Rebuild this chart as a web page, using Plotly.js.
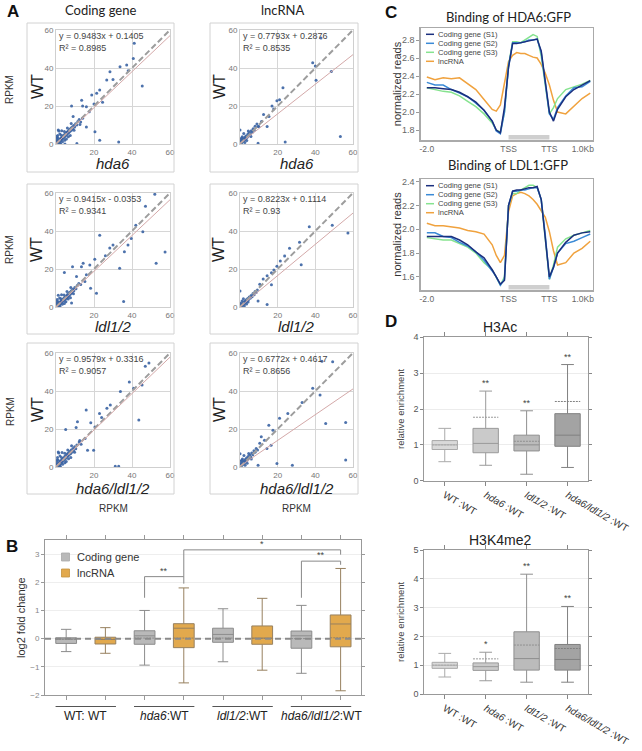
<!DOCTYPE html>
<html><head><meta charset="utf-8">
<script src="https://cdn.plot.ly/plotly-3.0.1.min.js"></script>
<style>html,body{margin:0;padding:0;background:#fff}#chart{width:642px;height:751px}</style>
</head><body><div id="chart"></div>
<script>
// ================= Panel A : scatter (mutant RPKM vs WT RPKM) =================
const scatterMutants = ['hda6','ldl1/2','hda6/ldl1/2'];
const scatterColumns = ['Coding gene','lncRNA'];
const codingHda6 = [[0.3,0.5],[0.6,0.2],[0.8,1.1],[1.0,0.6],[1.2,1.5],[1.5,0.9],[1.7,2.0],[2.0,1.4],[2.2,2.6],[2.5,1.9],[2.7,3.1],[3.0,2.4],[3.2,3.6],[3.5,2.9],[3.7,4.2],[4.0,3.3],[4.2,4.8],[4.5,3.8],[4.8,5.2],[5.0,4.4],[5.3,5.9],[5.6,4.9],[5.9,6.3],[6.2,5.5],[6.5,7.0],[6.8,6.1],[7.1,7.6],[7.4,6.7],[7.8,8.3],[8.1,7.3],[8.5,9.0],[8.9,8.0],[9.3,9.8],[9.8,9.0],[10.3,10.6],[10.9,10.0],[11.5,11.8],[0.4,2.2],[1.1,3.0],[2.4,0.3],[3.4,1.2],[0.9,4.5],[2.0,5.2],[5.5,2.6],[6.5,3.8],[1.5,6.8],[3.0,7.0],[7.5,4.5],[0.2,1.3],[1.8,0.2],[0.5,3.2],[2.8,4.6],[4.4,6.6],[6.0,8.4],[8.0,10.8],[4.6,2.0],[9.5,7.2],[12.2,12.9],[13.0,11.6],
  [12.6,10.2],[14.0,13.5],[16.0,19.6],[14.0,20.0],[8.2,20.0],[13.5,23.0],[18.8,25.8],[21.4,26.7],[23.0,28.4],[20.0,21.0],[17.5,17.0],[24.5,22.0],[26.7,33.7],[28.4,38.0],[30.0,34.0],[33.7,40.7],[37.2,41.6],[38.0,38.6],[40.7,45.0],[41.2,53.0],[45.4,30.5],[16.0,9.0],[20.5,6.5],[23.0,2.0],[33.0,1.0],[11.0,0.3],[4.7,0.0],[1.2,7.4],[0.4,3.9],[9.0,14.5]];
const lncHda6 = [[0.3,0.4],[0.5,1.2],[0.8,0.6],[1.0,1.8],[1.3,1.1],[1.6,2.5],[1.9,1.7],[2.2,3.0],[2.5,2.2],[2.8,3.8],[3.1,2.9],[3.4,4.4],[3.8,3.5],[4.2,5.2],[4.6,4.3],[5.0,6.0],[5.5,5.1],[6.0,7.0],[6.5,6.2],[7.0,8.0],[7.5,7.2],[8.0,9.3],[0.4,2.6],[1.2,3.8],[2.6,0.8],[0.2,1.5],[3.6,1.8],[2.0,5.5],[9.0,10.5],[10.0,9.2],[0.9,3.1],[4.4,6.8],[5.8,4.0],
  [14.4,9.2],[17.9,18.4],[19.6,22.8],[21.0,23.3],[22.8,29.6],[15.4,14.5],[11.4,11.9],[9.6,9.2],[38.6,42.8],[40.0,41.0],[40.4,33.6],[43.0,55.8],[24.0,1.0],[9.6,0.4],[0.0,7.4],[48.5,38.2],[53.3,3.9],[12.5,15.5],[17.0,20.0]];
const codingLdl = [[0.2,0.4],[0.5,0.9],[0.7,0.3],[0.9,1.4],[1.2,0.8],[1.4,1.9],[1.7,1.2],[1.9,2.4],[2.2,1.7],[2.4,2.9],[2.7,2.2],[2.9,3.4],[3.2,2.7],[3.5,4.0],[3.8,3.1],[4.1,4.6],[4.4,3.6],[4.7,5.1],[5.0,4.2],[5.3,5.7],[5.6,4.8],[5.9,6.4],[6.3,5.4],[6.6,7.0],[7.0,6.1],[7.3,7.7],[7.7,6.9],[8.1,8.5],[8.5,7.6],[8.9,9.3],[9.4,8.5],[9.9,10.2],[10.5,9.6],[11.2,11.3],[0.3,1.9],[1.0,2.8],[2.1,0.4],[3.3,1.4],[0.7,4.0],[1.9,4.8],[5.2,2.8],[6.4,4.2],[1.2,6.2],[2.9,6.4],[7.6,4.9],[0.1,1.0],[1.6,0.1],[0.4,3.0],[2.6,4.3],[4.2,6.3],[5.8,8.1],[7.8,10.2],[4.4,1.9],[9.2,7.0],[12.0,12.4],[13.0,11.9],
  [47.1,53.0],[52.0,59.3],[52.7,23.0],[57.4,29.0],[45.7,39.6],[39.6,36.0],[37.9,32.6],[36.0,29.1],[30.0,32.6],[28.3,31.0],[23.0,37.8],[20.4,25.1],[17.8,22.1],[13.4,21.2],[8.7,21.2],[10.8,16.0],[15.2,13.4],[18.2,9.9],[21.3,7.3],[35.6,2.9],[8.2,2.1],[4.4,18.1],[14.3,23.0],[33.5,20.4],[26.0,27.0],[42.0,43.0],[16.0,17.0]];
const lncLdl = [[0.2,0.3],[0.4,0.9],[0.7,0.5],[0.9,1.5],[1.2,0.9],[1.5,2.1],[1.8,1.4],[2.1,2.6],[2.4,1.9],[2.7,3.2],[3.0,2.5],[3.3,3.8],[3.7,3.1],[4.1,4.5],[4.5,3.8],[4.9,5.3],[5.4,4.6],[5.9,6.1],[6.4,5.4],[6.9,7.1],[7.5,6.5],[8.0,8.2],[8.6,7.6],[9.2,9.0],[0.3,2.0],[1.1,3.1],[2.3,0.6],[3.5,1.6],[1.8,4.4],[4.3,2.6],[0.1,1.2],[0.6,0.1],
  [36.8,42.2],[31.6,34.1],[26.3,30.9],[23.7,26.8],[21.4,24.2],[19.6,21.5],[16.7,18.0],[14.4,16.5],[12.3,14.7],[32.5,22.3],[16.7,11.7],[14.4,1.3],[9.6,3.1],[0.0,8.4],[49.0,43.0],[57.3,38.9],[10.5,12.0],[18.0,19.5]];
const codingDouble = [[0.3,0.6],[0.5,0.2],[0.8,1.3],[1.0,0.5],[1.3,1.8],[1.5,1.0],[1.8,2.4],[2.0,1.5],[2.3,3.0],[2.6,2.0],[2.8,3.6],[3.1,2.6],[3.4,4.2],[3.7,3.1],[4.0,4.8],[4.3,3.7],[4.6,5.5],[4.9,4.3],[5.2,6.1],[5.5,5.0],[5.8,6.8],[6.1,5.6],[6.5,7.4],[6.8,6.3],[7.2,8.1],[7.6,7.0],[8.0,8.9],[8.4,7.8],[8.9,9.8],[9.3,8.6],[9.8,10.6],[10.4,9.6],[11.0,11.6],[0.4,2.6],[1.2,3.5],[2.3,0.4],[3.5,1.4],[0.8,5.0],[2.1,5.8],[5.4,2.9],[6.6,4.4],[1.4,7.4],[3.2,7.6],[7.8,5.0],[0.1,1.5],[1.9,0.3],[0.6,3.8],[2.9,5.0],[4.6,7.2],[6.2,9.0],[8.2,11.2],[4.7,2.3],[9.8,7.8],[12.2,13.2],[13.2,12.0],[0.2,0.1],[1.1,0.2],
  [47.0,53.0],[48.9,54.7],[45.3,43.2],[40.9,41.5],[38.6,44.7],[43.6,24.7],[33.9,39.7],[28.6,32.6],[26.8,30.9],[22.9,28.2],[18.3,23.3],[15.9,30.0],[11.3,23.8],[5.1,19.8],[10.6,20.8],[15.3,15.0],[16.6,8.8],[19.8,8.8],[33.0,0.4],[31.2,0.4],[7.4,7.1],[1.2,7.9],[20.5,21.0],[24.0,26.0],[12.5,14.0]];
const lncDouble = [[0.3,0.5],[0.5,1.3],[0.8,0.7],[1.0,2.0],[1.3,1.2],[1.6,2.7],[1.9,1.8],[2.2,3.3],[2.5,2.4],[2.8,4.0],[3.1,3.0],[3.5,4.7],[3.9,3.7],[4.3,5.5],[4.7,4.5],[5.2,6.3],[5.7,5.3],[6.2,7.4],[6.8,6.5],[7.4,8.6],[8.0,7.7],[8.6,9.8],[0.4,3.0],[1.3,4.2],[2.7,0.9],[0.2,1.7],[3.8,2.0],[2.1,6.0],[9.3,9.0],[0.9,3.6],[4.6,7.1],[6.0,4.2],[0.1,0.2],
  [43.5,55.6],[38.6,41.5],[42.5,37.9],[25.4,28.2],[21.0,25.6],[17.5,19.4],[15.3,22.0],[13.0,14.1],[11.3,15.9],[16.5,11.5],[14.3,9.7],[27.8,0.9],[19.6,1.8],[9.6,0.9],[0.0,7.0],[49.2,55.4],[45.5,22.9],[56.1,23.4],[56.1,3.7],[33.0,34.0],[10.5,12.5]];
// order: coding hda6, lnc hda6, coding ldl, lnc ldl, coding double, lnc double
const fitSlopes = [0.9483, 0.7793, 0.9415, 0.8223, 0.9579, 0.6772];
const fitIntercepts = [0.1405, 0.2876, -0.0353, 0.1114, 0.3316, 0.4617];
const fitR2 = ['0.8985', '0.8535', '0.9341', '0.93', '0.9057', '0.8656'];
const scatterTicksX = [20, 40, 60];
const scatterTicksY = [0, 20, 40, 60];

// ================= Panel B : log2 fold change boxes =================
const bSeries = ['Coding gene', 'lncRNA'];
const bGroupLabels = ['WT: WT', '<i>hda6</i>:WT', '<i>ldl1/2</i>:WT', '<i>hda6/ldl1/2</i>:WT'];
const bCodingLow  = [-0.46, -0.94, -0.82, -1.23];
const bCodingQ1   = [-0.17, -0.20, -0.13, -0.34];
const bCodingMed  = [-0.01,  0.10,  0.15,  0.10];
const bCodingQ3   = [ 0.03,  0.28,  0.37,  0.27];
const bCodingHigh = [ 0.33,  1.00,  1.06,  1.18];
const bCodingMean = [-0.03,  0.02,  0.02,  0.00];
const bLncLow  = [-0.52, -1.57, -1.12, -1.85];
const bLncQ1   = [-0.19, -0.32, -0.20, -0.29];
const bLncMed  = [-0.03,  0.37,  0.02,  0.52];
const bLncQ3   = [ 0.05,  0.53,  0.45,  0.84];
const bLncHigh = [ 0.39,  1.80,  1.43,  2.49];
const bLncMean = [-0.02,  0.02,  0.01,  0.03];
const bTicksY = [-2, -1, 0, 1, 2, 3];

// ================= Panel C : metagene profiles =================
const metaX = [-2.0,-1.8,-1.6,-1.4,-1.2,-1.0,-0.8,-0.6,-0.4,-0.3,-0.2,-0.1,0,0.1,0.2,0.3,0.4,0.5,0.6,0.7,0.8,0.9,1.0,1.1,1.2,1.4,1.6,1.8,2.0];
const metaSeries = ['Coding gene (S1)', 'Coding gene (S2)', 'Coding gene (S3)', 'lncRNA'];
const metaTickVals = [-2, 0, 1, 1.82];
const metaTickText = ['-2.0', 'TSS', 'TTS', '1.0Kb'];
const hda6S1  = [2.27,2.27,2.26,2.25,2.22,2.17,2.11,2.02,1.90,1.80,1.77,2.05,2.50,2.76,2.76,2.77,2.78,2.79,2.80,2.81,2.68,2.35,2.00,1.90,2.03,2.17,2.25,2.30,2.35];
const hda6S2  = [2.33,2.30,2.30,2.25,2.21,2.17,2.10,2.02,1.90,1.79,1.76,2.00,2.50,2.77,2.77,2.77,2.78,2.80,2.80,2.81,2.66,2.33,1.98,1.92,2.05,2.18,2.27,2.28,2.34];
const hda6S3  = [2.27,2.25,2.23,2.22,2.18,2.12,2.06,1.98,1.88,1.80,1.78,2.00,2.52,2.78,2.78,2.77,2.80,2.83,2.86,2.84,2.62,2.30,1.98,2.05,2.15,2.25,2.28,2.31,2.35];
const hda6Lnc = [2.39,2.36,2.38,2.37,2.38,2.32,2.25,2.14,2.03,2.01,2.08,2.32,2.56,2.63,2.66,2.65,2.65,2.63,2.61,2.60,2.53,2.43,2.30,2.13,2.00,1.98,2.06,2.15,2.21];
const ldlS1  = [1.94,1.94,1.94,1.94,1.91,1.87,1.81,1.76,1.66,1.60,1.54,1.57,2.20,2.32,2.33,2.33,2.34,2.35,2.35,2.36,2.25,1.94,1.60,1.68,1.80,1.89,1.95,1.97,1.98];
const ldlS2  = [1.97,1.97,1.94,1.93,1.89,1.86,1.81,1.74,1.65,1.60,1.53,1.58,2.20,2.32,2.32,2.33,2.33,2.34,2.35,2.35,2.25,1.95,1.58,1.68,1.80,1.88,1.90,1.93,1.96];
const ldlS3  = [1.93,1.92,1.91,1.91,1.88,1.85,1.80,1.72,1.66,1.60,1.53,1.60,2.20,2.30,2.30,2.33,2.35,2.37,2.37,2.35,2.25,1.90,1.58,1.70,1.85,1.92,1.95,1.97,1.99];
const ldlLnc = [2.05,2.03,2.03,2.02,2.01,1.99,1.98,1.96,1.87,1.78,1.72,1.78,2.15,2.28,2.30,2.31,2.30,2.28,2.25,2.21,2.16,2.10,1.98,1.82,1.70,1.72,1.80,1.84,1.90];

// ================= Panel D : relative enrichment boxes =================
const dCats = ['WT :WT', '<i>hda6</i> :WT', '<i>ldl1/2</i> :WT', '<i>hda6/ldl1/2</i> :WT'];
const h3acLow  = [0.53, 0.43, 0.18, 0.37];
const h3acQ1   = [0.87, 0.78, 0.83, 0.96];
const h3acMed  = [1.00, 1.04, 1.00, 1.27];
const h3acQ3   = [1.12, 1.46, 1.27, 1.87];
const h3acHigh = [1.46, 2.50, 1.95, 3.24];
const h3acMean = [1.00, 1.77, 1.10, 2.21];
const h3acSig  = ['', '**', '**', '**'];
const k4Low  = [0.59, 0.46, 0.41, 0.41];
const k4Q1   = [0.89, 0.82, 0.83, 0.83];
const k4Med  = [1.00, 0.95, 1.23, 1.20];
const k4Q3   = [1.10, 1.08, 2.16, 1.72];
const k4High = [1.41, 1.45, 4.16, 3.04];
const k4Mean = [1.00, 1.22, 1.70, 1.58];
const k4Sig  = ['', '*', '**', '**'];

// ================= build =================
const W = 642, H = 751;
const X = p => p / W, Y = p => 1 - p / H;
const data = [], shapes = [], annotations = [];
const FONT = 'Liberation Sans, Arial, sans-serif';
const TFONT = 'Lato, Liberation Sans, sans-serif';
const layout = {width: W, height: H, autosize: false, margin: {l:0, r:0, t:0, b:0},
  paper_bgcolor: '#fff', plot_bgcolor: 'rgba(0,0,0,0)', showlegend: false, boxmode: 'overlay',
  font: {family: FONT, size: 9, color: '#555'}};
const ax = n => n === 1 ? '' : String(n);
function txt(o) { annotations.push(Object.assign({showarrow: false, xref: 'paper', yref: 'paper', xanchor: 'center', yanchor: 'middle'}, o)); }

// panel letters
txt({text: '<b>A</b>', x: X(13), y: Y(12), font: {size: 17, color: '#111', family: FONT}});
txt({text: '<b>B</b>', x: X(12), y: Y(546), font: {size: 17, color: '#111', family: FONT}});
txt({text: '<b>C</b>', x: X(391), y: Y(13), font: {size: 17, color: '#111', family: FONT}});
txt({text: '<b>D</b>', x: X(391), y: Y(322), font: {size: 17, color: '#111', family: FONT}});

// ---- Panel A ----
const scatterSets = [codingHda6, lncHda6, codingLdl, lncLdl, codingDouble, lncDouble];
const colX = [[56, 170], [240, 353]];
const colFrame = [[27, 174], [210, 358]];
const rowY = [[30, 144], [193, 307], [353, 467]];
const rowFrame = [[23, 172], [184, 334], [343, 494]];
const rowXLabel = [163.5, 326.5, 488.5];
const colTitleX = [100, 283];
scatterColumns.forEach((t, c) => txt({text: t, x: X(colTitleX[c]), y: Y(10), font: {size: 13, color: '#222', family: TFONT}}));
scatterSets.forEach((pts, i) => {
  const r = Math.floor(i / 2), c = i % 2, n = i + 1;
  const xa = 'x' + ax(n), ya = 'y' + ax(n);
  const common = {range: [0, 60], showgrid: true, gridcolor: '#d6d6d6', gridwidth: 1, showline: true, linecolor: '#cfcfcf',
    mirror: true, zeroline: false, ticks: '', tickfont: {size: 8, color: '#777'}, fixedrange: true};
  layout['xaxis' + ax(n)] = Object.assign({}, common, {domain: [X(colX[c][0]), X(colX[c][1])], anchor: ya, tickvals: scatterTicksX});
  layout['yaxis' + ax(n)] = Object.assign({}, common, {domain: [Y(rowY[r][1]), Y(rowY[r][0])], anchor: xa, tickvals: scatterTicksY});
  data.push({type: 'scatter', mode: 'markers', x: pts.map(p => p[0]), y: pts.map(p => p[1]), xaxis: xa, yaxis: ya,
    marker: {size: 3, color: '#3a63a3', opacity: 0.9}, hoverinfo: 'x+y'});
  data.push({type: 'scatter', mode: 'lines', x: [0, 60], y: [0, 60], xaxis: xa, yaxis: ya,
    line: {color: '#9d9d9d', width: 2, dash: '6px,3px'}, hoverinfo: 'skip'});
  const s = fitSlopes[i], b = fitIntercepts[i];
  data.push({type: 'scatter', mode: 'lines', x: [0, 60], y: [b, s * 60 + b], xaxis: xa, yaxis: ya,
    line: {color: '#d4a9a9', width: 1}, hoverinfo: 'skip'});
  shapes.push({type: 'rect', xref: 'paper', yref: 'paper', x0: X(colFrame[c][0]), x1: X(colFrame[c][1]),
    y0: Y(rowFrame[r][1]), y1: Y(rowFrame[r][0]), line: {color: '#d2d2d2', width: 1}});
  txt({text: 'y = ' + s.toFixed(4) + 'x ' + (b < 0 ? '- ' : '+ ') + Math.abs(b).toFixed(4) + '<br>R² = ' + fitR2[i],
    x: X(colX[c][0] + 1), y: Y(rowY[r][0] - 1), xanchor: 'left', yanchor: 'top', align: 'left',
    font: {size: 9, color: '#444'}});
  txt({text: 'WT', textangle: -90, x: X(c === 0 ? 37 : 219), y: Y((rowY[r][0] + rowY[r][1]) / 2), font: {size: 16, color: '#222'}});
  txt({text: '<i>' + scatterMutants[r] + '</i>', x: X((colX[c][0] + colX[c][1]) / 2), y: Y(rowXLabel[r]), borderpad: 0,
    font: {size: 15, color: '#222'}});
  if (c === 0) txt({text: 'RPKM', textangle: -90, x: X(10), y: Y([90, 250, 412][r]), font: {size: 10, color: '#333'}});
  if (r === 2) txt({text: 'RPKM', x: X((colX[c][0] + colX[c][1]) / 2), y: Y(508), font: {size: 10, color: '#333'}});
});

// ---- Panel B ----
(function () {
  const xa = 'x7', ya = 'y7';
  layout.xaxis7 = {domain: [X(45), X(361)], anchor: ya, range: [-0.54, 7.52], tickvals: [0,1,2,3,4,5,6,7],
    showticklabels: false, ticks: 'outside', ticklen: 4, tickcolor: '#999', showline: true, linecolor: '#999', mirror: 'ticks',
    showgrid: false, zeroline: false, fixedrange: true};
  layout.yaxis7 = {domain: [Y(695), Y(540)], anchor: xa, range: [-2, 3.5], tickvals: bTicksY, ticks: 'outside', ticklen: 3,
    tickcolor: '#999', showline: true, linecolor: '#999', mirror: 'ticks', showgrid: true, gridcolor: '#eeeeee', zeroline: false,
    tickfont: {size: 8, color: '#888'}, fixedrange: true};
  data.push({type: 'box', name: bSeries[0], x: [0, 2, 4, 6], q1: bCodingQ1, median: bCodingMed, q3: bCodingQ3,
    lowerfence: bCodingLow, upperfence: bCodingHigh, mean: bCodingMean, boxmean: true, boxpoints: false,
    width: 0.53, whiskerwidth: 0.5, fillcolor: '#b9b9b9', line: {color: '#8c8c8c', width: 1}, xaxis: xa, yaxis: ya});
  data.push({type: 'box', name: bSeries[1], x: [1, 3, 5, 7], q1: bLncQ1, median: bLncMed, q3: bLncQ3,
    lowerfence: bLncLow, upperfence: bLncHigh, mean: bLncMean, boxmean: true, boxpoints: false,
    width: 0.53, whiskerwidth: 0.5, fillcolor: '#e2a94d', line: {color: '#97805f', width: 1}, xaxis: xa, yaxis: ya});
  shapes.push({type: 'line', xref: 'x7 domain', yref: 'y7', x0: 0, x1: 1, y0: 0, y1: 0, layer: 'above',
    line: {color: '#8a8a8a', width: 2, dash: '6px,4px'}});
  const legCols = ['#b9b9b9', '#e2a94d'], legY = [557, 573];
  bSeries.forEach((s, k) => {
    shapes.push({type: 'rect', xref: 'paper', yref: 'paper', x0: X(61.5), x1: X(69.5), y0: Y(legY[k] + 4), y1: Y(legY[k] - 4),
      fillcolor: legCols[k], line: {color: k ? '#c4923e' : '#a8a8a8', width: 0.8}});
    txt({text: s, x: X(75), y: Y(legY[k]), xanchor: 'left', font: {size: 11, color: '#333'}});
  });
  bGroupLabels.forEach((g, k) => {
    const c = 2 * k + 0.5;
    shapes.push({type: 'line', xref: 'x7', yref: 'paper', x0: c - 0.77, x1: c + 0.77, y0: Y(706.5), y1: Y(706.5), line: {color: '#555', width: 1}});
    annotations.push({text: g, showarrow: false, xref: 'x7', yref: 'paper', x: c, y: Y(716), xanchor: 'center', yanchor: 'middle', font: {size: 12, color: '#222'}});
  });
  txt({text: 'log2 fold change', textangle: -90, x: X(21), y: Y(617), font: {size: 11, color: '#333'}});
  const br = (pts) => shapes.push({type: 'path', xref: 'x7', yref: 'y7', line: {color: '#888', width: 1},
    path: 'M' + pts.map(p => p[0] + ',' + p[1]).join(' L')});
  br([[2, 1.45], [2, 2.2], [3, 2.2], [3, 1.95]]);
  br([[3, 2.2], [3, 3.15], [7, 3.15], [7, 2.98]]);
  br([[6, 1.45], [6, 2.75], [7, 2.75], [7, 2.62]]);
  const star = (x, y, t) => annotations.push({text: t, showarrow: false, xref: 'x7', yref: 'y7', x: x, y: y, yshift: 6,
    xanchor: 'center', yanchor: 'middle', font: {size: 9, color: '#444'}});
  star(2.5, 2.2, '**'); star(5, 3.15, '*'); star(6.5, 2.75, '**');
})();

// ---- Panel C ----
const metaColors = ['#1b2f7e', '#3a8ad6', '#86e38f', '#f0a23e'];
const metaPanels = [
  {n: 8, title: 'Binding of HDA6:GFP', titleY: 17, dom: [28.3, 140], range: [1.69, 2.93], ticks: [1.8, 2.0, 2.2, 2.4, 2.6, 2.8],
   series: [hda6S1, hda6S2, hda6S3, hda6Lnc], legTop: 34.3},
  {n: 9, title: 'Binding of LDL1:GFP', titleY: 165, dom: [179.3, 290], range: [1.49, 2.42], ticks: [1.6, 1.8, 2.0, 2.2, 2.4],
   series: [ldlS1, ldlS2, ldlS3, ldlLnc], legTop: 185.7}];
metaPanels.forEach(P => {
  const xa = 'x' + P.n, ya = 'y' + P.n;
  layout['xaxis' + P.n] = {domain: [X(420.7), X(592.7)], anchor: ya, range: [-2.15, 2.06], tickvals: metaTickVals, ticktext: metaTickText,
    ticks: '', showline: true, linecolor: '#aaaaaa', linewidth: 1.5, mirror: true, showgrid: false, zeroline: false,
    tickfont: {size: 8.5, color: '#666'}, fixedrange: true};
  layout['yaxis' + P.n] = {domain: [Y(P.dom[1]), Y(P.dom[0])], anchor: xa, range: P.range, tickvals: P.ticks, tickformat: '.1f',
    ticks: 'outside', ticklen: 3, tickcolor: '#999', showline: true, linecolor: '#aaaaaa', linewidth: 1.5, mirror: true,
    showgrid: false, zeroline: false, tickfont: {size: 9, color: '#666'}, fixedrange: true};
  [3, 2, 1, 0].forEach(k => data.push({type: 'scatter', mode: 'lines', name: metaSeries[k], x: metaX, y: P.series[k],
    xaxis: xa, yaxis: ya, line: {color: metaColors[k], width: 1.5}}));
  shapes.push({type: 'rect', xref: xa, yref: ya + ' domain', x0: 0, x1: 1, y0: 0.005, y1: 0.045, fillcolor: '#cfcfcf', line: {width: 0}});
  txt({text: P.title, x: X(508), y: Y(P.titleY), font: {size: 13, color: '#222', family: TFONT}});
  txt({text: 'normalized reads', textangle: -90, x: X(397), y: Y((P.dom[0] + P.dom[1]) / 2), font: {size: 11, color: '#333'}});
  metaSeries.forEach((s, k) => {
    const ly = P.legTop + 9 * k;
    shapes.push({type: 'line', xref: 'paper', yref: 'paper', x0: X(426), x1: X(434), y0: Y(ly), y1: Y(ly),
      line: {color: metaColors[k], width: 1.5}});
    txt({text: s, x: X(436.5), y: Y(ly), xanchor: 'left', borderpad: 0, font: {size: 7.6, color: '#444'}});
  });
});

// ---- Panel D ----
const dFill = ['#d9d9d9', '#cacaca', '#bbbbbb', '#a3a3a3'];
const dLine = ['#aaaaaa', '#9a9a9a', '#8f8f8f', '#808080'];
const dPanels = [
  {n: 10, title: 'H3Ac', titleY: 327, dom: [337.3, 480.7], range: [0, 4], ticks: [0, 1, 2, 3, 4],
   low: h3acLow, q1: h3acQ1, med: h3acMed, q3: h3acQ3, high: h3acHigh, mean: h3acMean, sig: h3acSig},
  {n: 11, title: 'H3K4me2', titleY: 540, dom: [550, 694], range: [0, 5], ticks: [0, 1, 2, 3, 4, 5],
   low: k4Low, q1: k4Q1, med: k4Med, q3: k4Q3, high: k4High, mean: k4Mean, sig: k4Sig}];
dPanels.forEach(P => {
  const xa = 'x' + P.n, ya = 'y' + P.n;
  layout['xaxis' + P.n] = {domain: [X(424.3), X(588)], anchor: ya, range: [-0.5, 3.5], tickvals: [0, 1, 2, 3], ticktext: dCats,
    tickangle: 30, ticks: 'outside', ticklen: 4, tickcolor: '#888', showline: true, linecolor: '#999', mirror: 'ticks',
    showgrid: false, zeroline: false, tickfont: {size: 10, color: '#333'}, fixedrange: true};
  layout['yaxis' + P.n] = {domain: [Y(P.dom[1]), Y(P.dom[0])], anchor: xa, range: P.range, tickvals: P.ticks,
    ticks: 'outside', ticklen: 3, tickcolor: '#888', showline: true, linecolor: '#999', mirror: 'ticks',
    showgrid: true, gridcolor: '#ececec', zeroline: false, tickfont: {size: 9, color: '#555'}, fixedrange: true};
  dCats.forEach((c, k) => {
    data.push({type: 'box', name: c, x: [k], q1: [P.q1[k]], median: [P.med[k]], q3: [P.q3[k]], lowerfence: [P.low[k]],
      upperfence: [P.high[k]], mean: [P.mean[k]], boxmean: true, boxpoints: false, width: 0.62, whiskerwidth: 0.5,
      fillcolor: dFill[k], line: {color: dLine[k], width: 1}, xaxis: xa, yaxis: ya});
    if (P.sig[k]) annotations.push({text: P.sig[k], showarrow: false, xref: xa, yref: ya, x: k, y: P.high[k], yshift: 8,
      xanchor: 'center', yanchor: 'middle', font: {size: 9, color: '#444'}});
  });
  txt({text: P.title, x: X(500), y: Y(P.titleY), font: {size: 14, color: '#222', family: FONT}});
  txt({text: 'relative enrichment', textangle: -90, x: X(400), y: Y((P.dom[0] + P.dom[1]) / 2), font: {size: 9.5, color: '#444'}});
});

layout.shapes = shapes;
layout.annotations = annotations;
Plotly.newPlot('chart', data, layout, {staticPlot: true, displayModeBar: false});
</script></body></html>
